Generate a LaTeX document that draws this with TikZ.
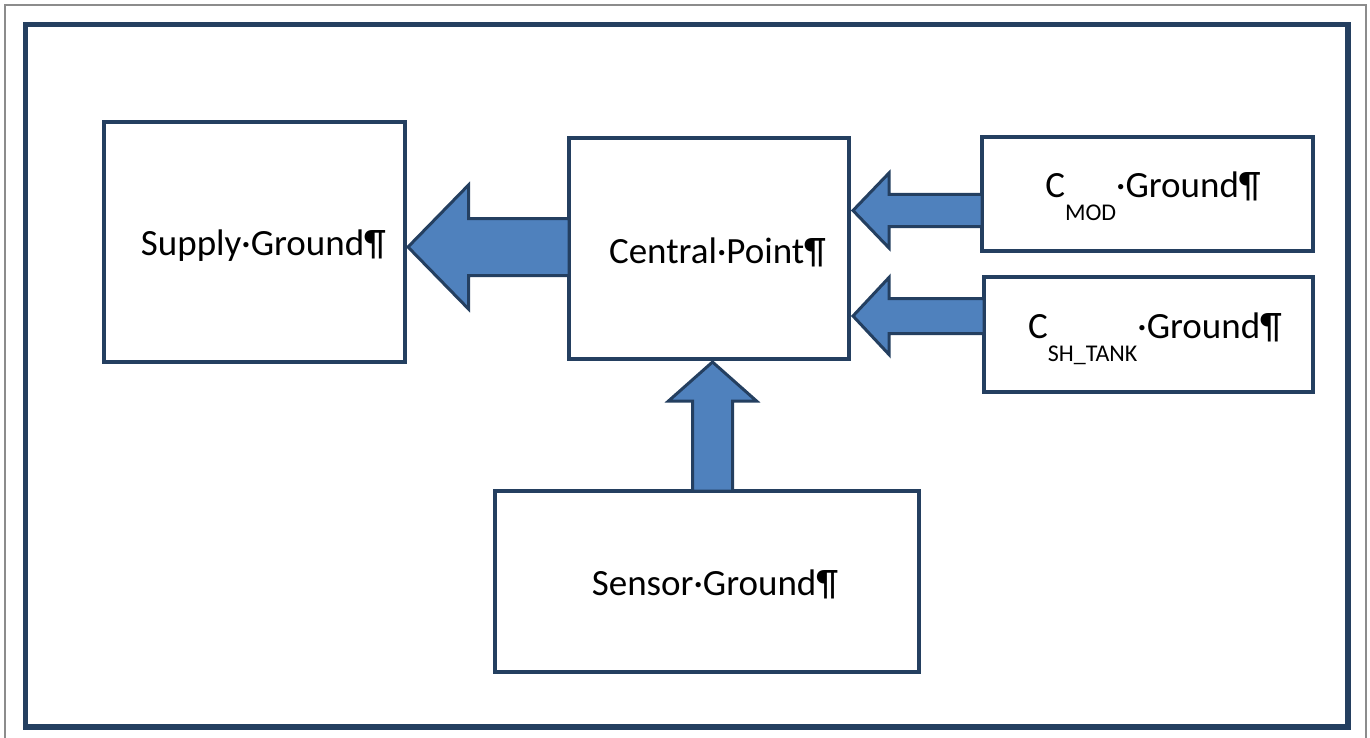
\documentclass[tikz,border=0pt]{standalone}
\usepackage{fontspec}
\setmainfont{Carlito}
\usetikzlibrary{calc}
\definecolor{edge}{HTML}{243F60}
\definecolor{afill}{HTML}{4F81BD}
\definecolor{frameg}{HTML}{8C8C8C}
\tikzset{
  box/.style={draw=edge, line width=4.5pt, inner sep=0pt, outer sep=0pt},
  lbl/.style={anchor=base, inner sep=0pt, font=\fontsize{37}{44}\selectfont},
  barrow/.style={draw=edge, fill=afill, line width=3pt, line join=miter},
  sub/.style={}
}
\newcommand\subtxt[1]{\lower23pt\hbox{\fontsize{24}{24}\selectfont #1}}
\begin{document}
\begin{tikzpicture}[x=1pt,y=-1pt]
\useasboundingbox (0,0) rectangle (1370,738);
% outer frames
\draw[frameg, line width=2pt] (5,740) -- (5,5) -- (1366,5) -- (1366,740);
\draw[edge, line width=5.5pt] (25.5,24.5) rectangle (1348,727);
% boxes
\node[box, minimum width=301pt, minimum height=240pt] (supply) at (254.5,242) {};
\node[box, minimum width=280pt, minimum height=221pt] (central) at (709,248.5) {};
\node[box, minimum width=331pt, minimum height=114pt] (cmod) at (1147.5,194) {};
\node[box, minimum width=329pt, minimum height=115pt] (csh) at (1148.5,334.5) {};
\node[box, minimum width=424pt, minimum height=181pt] (sensor) at (707,581.5) {};
% labels
\node[lbl] (supplyl) at ($(supply.center)+(9,13)$) {Supply·Ground¶};
\node[lbl] (centrall) at ($(central.center)+(8.5,14.5)$) {Central·Point¶};
\node[lbl] (sensorl) at ($(sensor.center)+(8,13.5)$) {Sensor·Ground¶};
\node[lbl] (cmodl) at ($(cmod.center)+(5.5,3)$) {C\subtxt{MOD}·Ground¶};
\node[lbl] (cshl) at ($(csh.center)+(6.5,3.5)$) {C\subtxt{SH\_TANK}·Ground¶};
% block arrows
\coordinate (T1) at ($(supply.east |- central.west)+(3,-1.5)$);
\draw[barrow] (T1) -- ($(T1)+(60.5,-62)$) -- ($(T1)+(60.5,-28.5)$)
  -- ($(central.west |- T1)+(0,-28.5)$) -- ($(central.west |- T1)+(0,28.5)$)
  -- ($(T1)+(60.5,28.5)$) -- ($(T1)+(60.5,62)$) -- cycle;
\coordinate (T2) at ($(central.east |- cmod.west)+(4,16.5)$);
\draw[barrow] (T2) -- ($(T2)+(36,-37.5)$) -- ($(T2)+(36,-16)$)
  -- ($(cmod.west |- T2)+(0,-16)$) -- ($(cmod.west |- T2)+(0,16)$)
  -- ($(T2)+(36,16)$) -- ($(T2)+(36,37.5)$) -- cycle;
\coordinate (T3) at ($(central.east |- csh.west)+(4,-18.5)$);
\draw[barrow] (T3) -- ($(T3)+(36,-38.5)$) -- ($(T3)+(36,-17.5)$)
  -- ($(csh.west |- T3)+(0,-17.5)$) -- ($(csh.west |- T3)+(0,17.5)$)
  -- ($(T3)+(36,17.5)$) -- ($(T3)+(36,38.5)$) -- cycle;
\coordinate (T4) at ($(central.south)+(3.5,3)$);
\draw[barrow] (T4) -- ($(T4)+(-44,39)$) -- ($(T4)+(-20,39)$)
  -- ($(T4 |- sensor.north)+(-20,0)$) -- ($(T4 |- sensor.north)+(20,0)$)
  -- ($(T4)+(20,39)$) -- ($(T4)+(44,39)$) -- cycle;
\end{tikzpicture}
\end{document}
